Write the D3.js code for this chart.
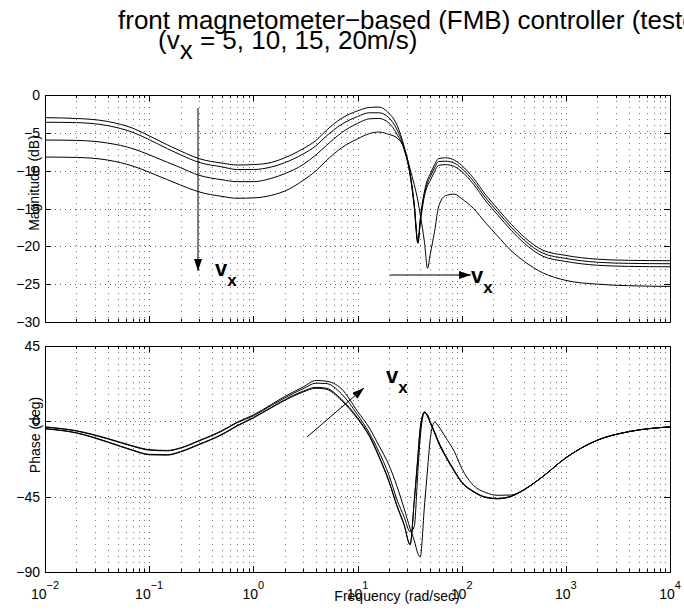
<!DOCTYPE html>
<html>
<head>
<meta charset="utf-8">
<script src="https://cdn.jsdelivr.net/npm/d3@7"></script>
<style>
  body { margin: 0; background: #fff; }
  svg { display: block; font-family: "Liberation Sans", Arial, sans-serif; }
</style>
</head>
<body>
<div id="chart"></div>
<script>
var svgWidth = 684;
var svgHeight = 615;

// frequency grid (rad/sec) shared by all curves
var freq = [0.01, 0.02, 0.04, 0.07, 0.1, 0.15, 0.2, 0.3, 0.5, 0.7, 1, 1.5, 2, 3, 4, 5, 7, 10, 13, 16,
  20, 24, 28, 32, 35, 38, 40, 44, 47, 50, 55, 60, 70, 85, 100, 130, 170, 220, 300, 400, 600, 1000, 2000, 4000, 10000];

// magnitude (dB), one list per speed
var magV5 = [-3.0, -3.1, -3.5, -4.4, -5.4, -6.6, -7.4, -8.4, -9.0, -9.25, -9.2, -8.9, -8.3, -7.1, -6.0, -4.7, -3.1, -2.1, -1.65, -1.6,
  -2.4, -4.0, -6.8, -10.3, -14.3, -19.3, -16.4, -12.7, -11.2, -10.4, -9.2, -8.4, -8.3, -8.6, -9.3, -11.0, -13.2, -15.0, -17.1, -18.8, -20.5, -21.2, -21.7, -21.85, -21.9];
var magV10 = [-3.6, -3.65, -4.05, -4.95, -5.9, -7.1, -7.9, -8.9, -9.5, -9.85, -9.85, -9.5, -8.95, -7.8, -6.7, -5.45, -3.9, -2.85, -2.35, -2.35,
  -3.0, -4.6, -7.0, -10.5, -14.5, -19.5, -16.7, -13.0, -11.6, -10.8, -9.6, -8.8, -8.75, -9.0, -9.7, -11.4, -13.6, -15.4, -17.5, -19.2, -20.9, -21.6, -22.1, -22.25, -22.3];
var magV15 = [-5.95, -6.0, -6.35, -7.1, -7.9, -8.9, -9.6, -10.6, -11.2, -11.45, -11.45, -11.0, -10.4, -9.2, -7.9, -6.7, -5.0, -3.75, -3.15, -3.1,
  -3.7, -5.2, -7.2, -10.6, -14.7, -19.6, -17.0, -13.3, -12.0, -11.3, -10.1, -9.3, -9.2, -9.45, -10.1, -11.8, -14.0, -15.8, -17.9, -19.6, -21.3, -22.0, -22.5, -22.65, -22.7];
var magV20 = [-8.2, -8.25, -8.6, -9.4, -10.2, -11.2, -11.9, -12.8, -13.4, -13.65, -13.6, -13.25, -12.7, -11.3, -10.0, -8.7, -7.0, -5.8, -5.1, -4.9,
  -5.2, -5.7, -7.0, -9.8, -11.8, -14.0, -15.8, -19.5, -22.9, -21.0, -18.0, -14.8, -13.3, -13.1, -13.7, -15.0, -16.9, -18.6, -20.6, -22.0, -23.5, -24.5, -25.0, -25.2, -25.3];

// phase (deg), one list per speed
var phaseV5 = [-4.5, -7.0, -12.5, -17.5, -20.0, -20.2, -18.3, -14.0, -8.0, -2.8, 2.0, 8.2, 12.5, 17.5, 19.8, 19.2, 12.5, 1.5, -9.0, -21.0,
  -36.0, -51.0, -62.0, -73.5, -48.4, -21.4, -4.5, 5.5, 3.0, -1.0, -7.0, -13.0, -21.0, -30.0, -36.5, -42.2, -45.5, -46.3, -44.8, -40.8, -33.0, -21.8, -11.3, -6.2, -3.3];
var phaseV10 = [-4.3, -6.8, -12.2, -17.2, -19.7, -19.9, -18.0, -13.7, -7.7, -2.5, 2.3, 8.5, 12.9, 18.0, 20.3, 19.8, 13.3, 2.2, -8.4, -20.4,
  -35.4, -50.4, -61.5, -73.8, -48.0, -20.8, -4.0, 5.7, 3.2, -0.8, -6.8, -12.8, -20.8, -29.8, -36.3, -42.0, -45.4, -46.2, -44.8, -40.8, -33.0, -21.8, -11.3, -6.2, -3.3];
var phaseV15 = [-3.5, -5.8, -10.5, -15.0, -17.2, -17.6, -16.0, -11.8, -5.8, -0.8, 3.3, 9.6, 14.0, 19.5, 22.8, 22.6, 16.5, 4.0, -7.0, -18.0,
  -32.0, -47.0, -57.0, -66.0, -63.0, -30.0, -10.0, 5.0, 4.0, -0.3, -6.3, -12.0, -20.3, -29.3, -36.0, -41.8, -45.2, -46.0, -44.6, -40.7, -33.0, -21.8, -11.3, -6.2, -3.3];
var phaseV20 = [-3.3, -5.6, -10.2, -14.7, -16.9, -17.4, -15.8, -11.5, -5.5, -0.5, 3.8, 10.2, 14.8, 20.5, 24.4, 24.0, 19.5, 6.0, -4.0, -14.3,
  -26.0, -39.0, -52.0, -64.0, -71.0, -79.0, -81.0, -50.0, -29.0, -10.3, -0.5, -3.0, -9.5, -18.0, -28.0, -38.3, -42.5, -44.2, -44.0, -40.6, -33.0, -21.8, -11.3, -6.2, -3.3];

var magSeries = [magV5, magV10, magV15, magV20];
var phaseSeries = [phaseV5, phaseV10, phaseV15, phaseV20];

var magTicks = [0, -5, -10, -15, -20, -25, -30];
var phaseTicks = [45, 0, -45, -90];
var decadeExps = [-2, -1, 0, 1, 2, 3, 4];

var plotLeft = 45, plotRight = 670;
var magBox = { top: 95, bottom: 322 };
var phaseBox = { top: 346, bottom: 572 };

var svg = d3.select("#chart")
  .append("svg")
  .attr("width", svgWidth)
  .attr("height", svgHeight);

var x = d3.scaleLog()
  .domain([0.01, 10000])
  .range([plotLeft, plotRight]);

var yMag = d3.scaleLinear().domain([-30, 0]).range([magBox.bottom, magBox.top]);
var yPhase = d3.scaleLinear().domain([-90, 45]).range([phaseBox.bottom, phaseBox.top]);

// all log grid positions: 1..9 times each decade
var gridFreqs = [];
decadeExps.slice(0, -1).forEach(function(e) {
  d3.range(1, 10).forEach(function(m) { gridFreqs.push(m * Math.pow(10, e)); });
});
gridFreqs.push(10000);

function drawPanel(box, y, ticks, series) {
  var g = svg.append("g");

  // dotted grid
  g.selectAll(".vgrid")
    .data(gridFreqs)
    .enter()
    .append("line")
    .attr("x1", d => Math.round(x(d)) + 0.5)
    .attr("x2", d => Math.round(x(d)) + 0.5)
    .attr("y1", box.top)
    .attr("y2", box.bottom)
    .attr("stroke", "#000")
    .attr("stroke-width", 1)
    .attr("stroke-dasharray", "1,5")
    .attr("opacity", 0.55);

  g.selectAll(".hgrid")
    .data(ticks)
    .enter()
    .append("line")
    .attr("x1", plotLeft)
    .attr("x2", plotRight)
    .attr("y1", d => Math.round(y(d)) + 0.5)
    .attr("y2", d => Math.round(y(d)) + 0.5)
    .attr("stroke", "#000")
    .attr("stroke-width", 1)
    .attr("stroke-dasharray", "1,4")
    .attr("opacity", 0.6);

  // curves
  var line = d3.line()
    .x((d, i) => x(freq[i]))
    .y(d => y(d))
    .curve(d3.curveMonotoneX);

  g.selectAll(".curve")
    .data(series)
    .enter()
    .append("path")
    .attr("d", line)
    .attr("fill", "none")
    .attr("stroke", "#000")
    .attr("stroke-width", 1);

  // inward ticks on all four sides
  var isMajor = d => Math.abs(Math.log10(d) - Math.round(Math.log10(d))) < 1e-9;
  gridFreqs.forEach(function(f) {
    var len = isMajor(f) ? 6 : 3;
    var xx = Math.round(x(f)) + 0.5;
    g.append("line").attr("x1", xx).attr("x2", xx)
      .attr("y1", box.bottom).attr("y2", box.bottom - len)
      .attr("stroke", "#000");
    g.append("line").attr("x1", xx).attr("x2", xx)
      .attr("y1", box.top).attr("y2", box.top + len)
      .attr("stroke", "#000");
  });
  ticks.forEach(function(t) {
    var yy = Math.round(y(t)) + 0.5;
    g.append("line").attr("x1", plotLeft).attr("x2", plotLeft + 6)
      .attr("y1", yy).attr("y2", yy).attr("stroke", "#000");
    g.append("line").attr("x1", plotRight).attr("x2", plotRight - 6)
      .attr("y1", yy).attr("y2", yy).attr("stroke", "#000");
  });

  // frame
  g.append("rect")
    .attr("x", plotLeft + 0.5)
    .attr("y", box.top + 0.5)
    .attr("width", plotRight - plotLeft)
    .attr("height", box.bottom - box.top)
    .attr("fill", "none")
    .attr("stroke", "#000")
    .attr("stroke-width", 1);

  // y tick labels
  g.selectAll(".ylab")
    .data(ticks)
    .enter()
    .append("text")
    .attr("x", plotLeft - 5)
    .attr("y", d => y(d) + 5)
    .attr("text-anchor", "end")
    .attr("font-size", 14)
    .text(d => d < 0 ? "\u2212" + Math.abs(d) : d);

  return g;
}

drawPanel(magBox, yMag, magTicks, magSeries);
drawPanel(phaseBox, yPhase, phaseTicks, phaseSeries);

// x tick labels (only under the phase plot)
var xl = svg.selectAll(".xlab")
  .data(decadeExps)
  .enter()
  .append("text")
  .attr("x", d => x(Math.pow(10, d)))
  .attr("y", 599)
  .attr("text-anchor", "middle")
  .attr("font-size", 14);
xl.append("tspan").text("10");
xl.append("tspan")
  .attr("dy", -10)
  .attr("font-size", 11)
  .text(d => d < 0 ? "\u2212" + Math.abs(d) : d);

// axis labels
svg.append("text")
  .attr("transform", "translate(39, 183) rotate(-90)")
  .attr("text-anchor", "middle")
  .attr("font-size", 14)
  .text("Magnitude (dB)");

svg.append("text")
  .attr("transform", "translate(40, 435) rotate(-90)")
  .attr("text-anchor", "middle")
  .attr("font-size", 14)
  .text("Phase (deg)");

svg.append("text")
  .attr("x", 397)
  .attr("y", 601)
  .attr("text-anchor", "middle")
  .attr("font-size", 14)
  .text("Frequency (rad/sec)");

// title (runs off the right edge, as in the original figure)
svg.append("text")
  .attr("x", 118)
  .attr("y", 29)
  .attr("font-size", 26)
  .text("front magnetometer\u2212based (FMB) controller (tested)");

var sub = svg.append("text")
  .attr("x", 158)
  .attr("y", 49)
  .attr("font-size", 26);
sub.append("tspan").text("(v");
sub.append("tspan").attr("dy", 10).text("x");
sub.append("tspan").attr("dy", -10).text(" = 5, 10, 15, 20m/s)");

// arrows with v_x labels
svg.append("defs").append("marker")
  .attr("id", "head")
  .attr("viewBox", "0 0 12 8")
  .attr("refX", 12)
  .attr("refY", 4)
  .attr("markerWidth", 12)
  .attr("markerHeight", 8)
  .attr("markerUnits", "userSpaceOnUse")
  .attr("orient", "auto")
  .append("path")
  .attr("d", "M0,0 L12,4 L0,8 Z")
  .attr("fill", "#000");

var arrows = [
  { x1: 198, y1: 108, x2: 198, y2: 271, lx: 215, ly: 276 },
  { x1: 390, y1: 275, x2: 471, y2: 275, lx: 471, ly: 283 },
  { x1: 307, y1: 437, x2: 364, y2: 388, lx: 386, ly: 383 }
];

arrows.forEach(function(a) {
  svg.append("line")
    .attr("x1", a.x1).attr("y1", a.y1)
    .attr("x2", a.x2).attr("y2", a.y2)
    .attr("stroke", "#000")
    .attr("stroke-width", 1)
    .attr("marker-end", "url(#head)");
  var t = svg.append("text")
    .attr("x", a.lx)
    .attr("y", a.ly)
    .attr("font-size", 22)
    .attr("font-weight", "bold");
  t.append("tspan").text("v");
  t.append("tspan").attr("dy", 10).attr("font-size", 17).text("x");
});
</script>
</body>
</html>
